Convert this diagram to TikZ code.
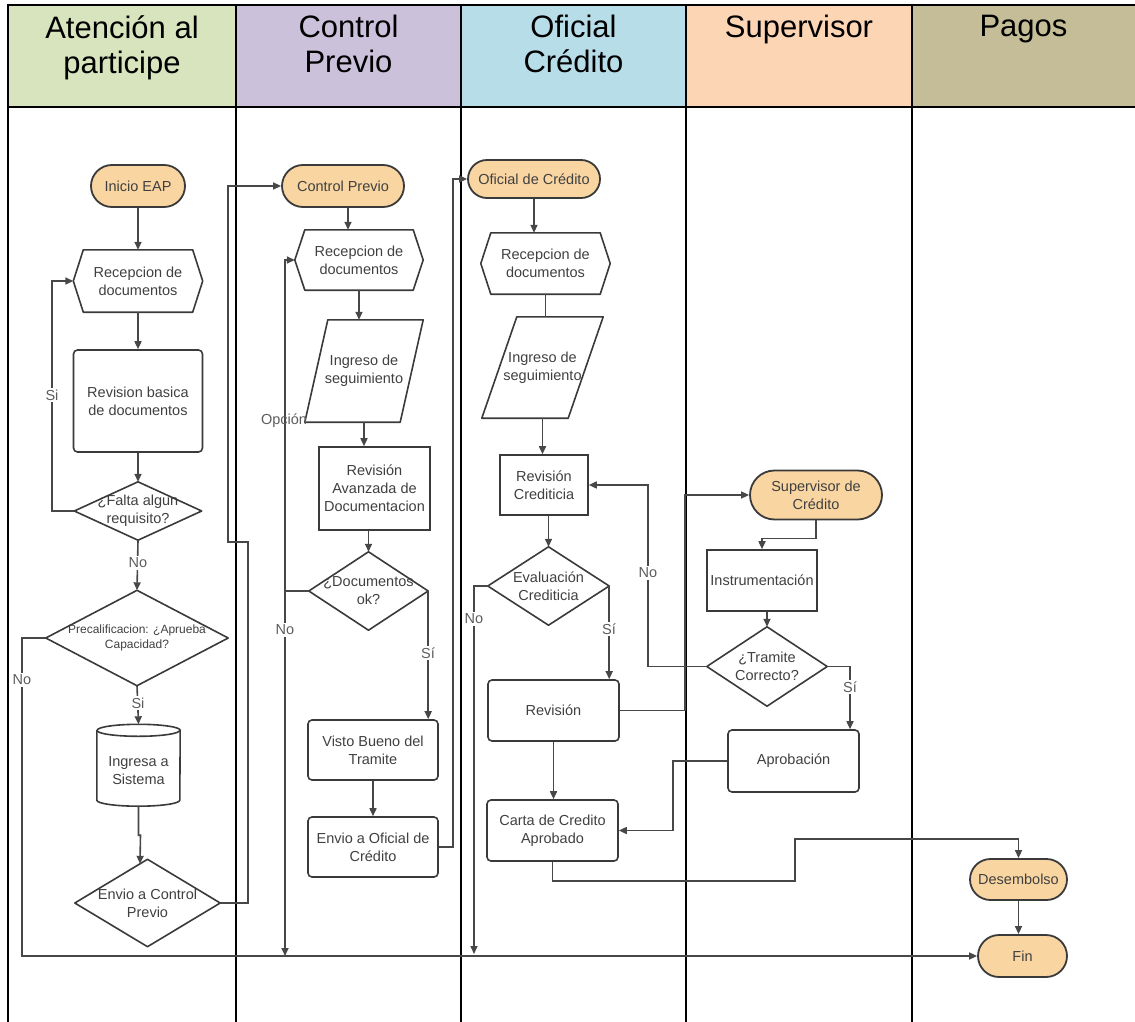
\documentclass[tikz,border=0pt]{standalone}
\usepackage{fontspec}
\setmainfont{Liberation Sans}
\usetikzlibrary{arrows.meta,shapes.misc,calc}
\definecolor{lineC}{HTML}{474747}
\definecolor{strokeC}{HTML}{3A3A3A}
\definecolor{txt}{HTML}{404040}
\definecolor{pillC}{HTML}{F9D5A2}
\definecolor{hA}{HTML}{D7E4BD}
\definecolor{hB}{HTML}{CCC1DA}
\definecolor{hC}{HTML}{B7DDE8}
\definecolor{hD}{HTML}{FCD5B5}
\definecolor{hE}{HTML}{C4BD97}
\begin{document}
\begin{tikzpicture}[x=1pt,y=-1pt,
  every node/.style={inner sep=0pt},
  base/.style={font=\fontsize{14.5}{18}\selectfont, align=center, text=txt},
  hdr/.style={font=\fontsize{31}{35}\selectfont, align=center, text=black, anchor=north},
  pill/.style={base, rounded rectangle, draw=strokeC, line width=1.8pt, fill=pillC},
  box/.style={base, rectangle, draw=strokeC, line width=1.6pt, fill=white},
  rbox/.style={box, rounded corners=4pt},
  ghost/.style={base, rectangle, draw=none},
  outline/.style={draw=strokeC, line width=1.6pt, line join=round},
  conn/.style={draw=lineC, line width=1.6pt},
  arr/.style={conn, -{Triangle[length=8pt,width=7pt]}},
  lbl/.style={base, fill=white, inner sep=1.5pt, text=txt!85},
  lane/.style={draw=black, line width=2pt}
]
\useasboundingbox (0,0) rectangle (1135,1022);

% ---------- header ----------
\fill[hA] (8,5) rectangle (236,107);
\fill[hB] (236,5) rectangle (461,107);
\fill[hC] (461,5) rectangle (686,107);
\fill[hD] (686,5) rectangle (912,107);
\fill[hE] (912,5) rectangle (1135,107);
\draw[lane] (7,5) -- (1135,5);
\draw[lane] (7,107) -- (1135,107);
\foreach \x in {8,236,461,686,912} \draw[lane] (\x,5) -- (\x,1022);

\node[hdr] (t1) at (122,15) {Atención al\\participe};
\node[hdr] (t2) at (348.5,15) {Control\\Previo};
\node[hdr] (t3) at (573.5,15) {Oficial\\Crédito};
\node[hdr] (t4) at (799,15) {Supervisor};
\node[hdr] (t5) at (1023.5,15) {Pagos};

% ---------- lane 1 ----------
\node[pill, minimum width=94pt, minimum height=42pt] (ini) at (138,186) {Inicio EAP};
\node[ghost, minimum width=129pt, minimum height=62pt] (rec1) at (138,281) {Recepcion de\\documentos};
\node[rbox, minimum width=129pt, minimum height=102pt] (revb) at (138,401) {Revision basica\\de documentos};
\node[ghost, minimum width=127pt, minimum height=58pt] (falta) at (138,511) {¿Falta algun\\requisito?};
\node[ghost, minimum width=182pt, minimum height=95pt, font=\fontsize{12}{15}\selectfont] (prec) at (137,638) {Precalificacion: ¿Aprueba\\Capacidad?};
\node[ghost, minimum width=83pt, minimum height=81pt] (cyl) at (138.5,770.5) {Ingresa a\\Sistema};
\node[ghost, minimum width=145pt, minimum height=87pt] (env1) at (147.5,903) {Envio a Control\\Previo};

% ---------- lane 2 ----------
\node[pill, minimum width=122pt, minimum height=42pt] (cp) at (343,186) {Control Previo};
\node[ghost, minimum width=128pt, minimum height=60pt] (rec2) at (359,260) {Recepcion de\\documentos};
\node[ghost, minimum width=118pt, minimum height=102pt] (ing2) at (364,371) {Ingreso de\\seguimiento};
\node[box, minimum width=111pt, minimum height=83pt] (rav) at (374.5,488.5) {Revisión\\Avanzada de\\Documentacion};
\node[ghost, minimum width=119pt, minimum height=78pt] (dok) at (368.5,591) {¿Documentos\\ok?};
\node[rbox, minimum width=130pt, minimum height=60pt] (vb) at (373,750) {Visto Bueno del\\Tramite};
\node[rbox, minimum width=130pt, minimum height=60pt] (eoc) at (373,847) {Envio a Oficial de\\Crédito};

% ---------- lane 3 ----------
\node[pill, minimum width=132pt, minimum height=38pt] (ofc) at (534,179) {Oficial de Crédito};
\node[ghost, minimum width=129pt, minimum height=61pt] (rec3) at (545.5,263.5) {Recepcion de\\documentos};
\node[ghost, minimum width=121pt, minimum height=101pt] (ing3) at (542.5,367.5) {Ingreso de\\seguimiento};
\node[box, minimum width=88pt, minimum height=60pt] (rcr) at (544,485) {Revisión\\Crediticia};
\node[ghost, minimum width=121pt, minimum height=78pt] (eval) at (548.5,586) {Evaluación\\Crediticia};
\node[rbox, minimum width=131pt, minimum height=61pt] (rev) at (553.5,710.5) {Revisión};
\node[rbox, minimum width=131pt, minimum height=61pt] (carta) at (552.5,830.5) {Carta de Credito\\Aprobado};

% ---------- lane 4 ----------
\node[pill, minimum width=132pt, minimum height=49pt] (sup) at (816,495) {Supervisor de\\Crédito};
\node[box, minimum width=110pt, minimum height=61pt] (ins) at (762,580.5) {Instrumentación};
\node[ghost, minimum width=120pt, minimum height=79pt] (tram) at (767,666.5) {¿Tramite\\Correcto?};
\node[rbox, minimum width=131pt, minimum height=62pt] (apr) at (793.5,761) {Aprobación};

% ---------- lane 5 ----------
\node[pill, minimum width=97pt, minimum height=41pt] (des) at (1018.5,879.5) {Desembolso};
\node[pill, minimum width=89pt, minimum height=42pt] (fin) at (1022.5,956) {Fin};

% ---------- custom outlines ----------
\foreach \n in {rec1,rec2,rec3}
  \draw[outline] (\n.west) -- ([xshift=10pt]\n.north west) -- ([xshift=-10pt]\n.north east)
     -- (\n.east) -- ([xshift=-10pt]\n.south east) -- ([xshift=10pt]\n.south west) -- cycle;
\foreach \n in {falta,prec,env1,dok,eval,tram}
  \draw[outline] (\n.north) -- (\n.east) -- (\n.south) -- (\n.west) -- cycle;
\draw[outline] ([xshift=23pt]ing2.north west) -- (ing2.north east) -- ([xshift=-23pt]ing2.south east) -- (ing2.south west) -- cycle;
\draw[outline] ([xshift=35pt]ing3.north west) -- (ing3.north east) -- ([xshift=-35pt]ing3.south east) -- (ing3.south west) -- cycle;
\draw[outline] ([yshift=-0.5pt]cyl.north west) -- ([yshift=11pt]cyl.south west)
   arc[start angle=180, end angle=360, x radius=41.5pt, y radius=6pt]
   -- ([yshift=-0.5pt]cyl.north east)
   arc[start angle=0, end angle=180, x radius=41.5pt, y radius=6pt] -- cycle;
\draw[outline] ([yshift=-0.5pt]cyl.north west) arc[start angle=180, end angle=360, x radius=41.5pt, y radius=6pt];

% ---------- connectors lane 1 ----------
\draw[arr] (ini.south) -- (rec1.north);
\draw[arr] (rec1.south) -- (revb.north);
\draw[arr] (revb.south) -- (falta.north);
\draw[arr] (falta.west) -- (52,511) |- (rec1.west);
\node[lbl] (lsi1) at (52,395) {Si};
\draw[arr] (falta.south) -- (prec.north);
\node[lbl] (lno1) at (138,563) {No};
\draw[arr] (prec.west) -- (22,638) -- (22,956) -- (fin.west);
\node[lbl] (lno2) at (22,680) {No};
\draw[arr] (prec.south) -- ([yshift=5.5pt]cyl.north);
\node[lbl] (lsi2) at (138,703) {Si};
\draw[arr] ([yshift=5pt]cyl.south) -- ++(0,29) -- ++(2,0) -- ($(env1.north)+(-7.5,4.5)$);
\draw[arr] (env1.east) -- (248,903) -- (248,542) -- (228,542) -- (228,186) -- (cp.west);

% ---------- connectors lane 2 ----------
\draw[arr] ([xshift=5pt]cp.south) -- ([xshift=5pt]cp.south |- rec2.north);
\draw[arr] (rec2.south) -- (rec2.south |- ing2.north);
\draw[arr] (ing2.south) -- (ing2.south |- rav.north);
\draw[arr] (dok.north |- rav.south) -- (dok.north);
\draw[arr] (dok.west) -- (285,591) |- (rec2.west);
\draw[arr] (285,591) -- (285,956);
\node[lbl, fill=none] (lop) at (284,421) {Opción};
\node[lbl] (lno3) at (285,630) {No};
\draw[arr] (dok.east) -- (dok.east |- vb.north);
\node[lbl] (lsi3) at (428,653) {Sí};
\draw[arr] (vb.south) -- (eoc.north);
\draw[arr] (eoc.east) -- (453,847) |- (ofc.west);

% ---------- connectors lane 3 ----------
\draw[arr] (ofc.south) -- (ofc.south |- rec3.north);
\draw[conn] (rec3.south) -- (rec3.south |- ing3.north);
\draw[arr] (ing3.south) -- (ing3.south |- rcr.north);
\draw[arr] (eval.north |- rcr.south) -- (eval.north);
\draw[arr] (eval.west) -- (474,586) -- (474,954);
\node[lbl] (lno4) at (474,619) {No};
\draw[arr] (eval.east) -- (eval.east |- rev.north);
\node[lbl] (lsi4) at (609,629) {Sí};
\draw[arr] (rev.south) -- (rev.south |- carta.north);
\draw[arr] (rev.east) -- (685,710.5) |- (sup.west);
\draw[arr] (tram.west) -- (648,666.5) |- (rcr.east);
\node[lbl] (lno5) at (648,573) {No};
\draw[arr] (apr.west) -- (673,761) |- (carta.east);
\draw[arr] (carta.south) -- (552.5,881) -- (795,881) -- (795,839) -| (des.north);

% ---------- connectors lane 4 / 5 ----------
\draw[arr] (sup.south) -- ++(0,18) -| (ins.north);
\draw[arr] (tram.north |- ins.south) -- (tram.north);
\coordinate (s4) at (850,666.5);
\draw[arr] (tram.east) -- (s4) -- (s4 |- apr.north);
\node[lbl] (lsi5) at (850,687) {Sí};
\draw[arr] (des.south) -- (des.south |- fin.north);
\end{tikzpicture}
\end{document}
